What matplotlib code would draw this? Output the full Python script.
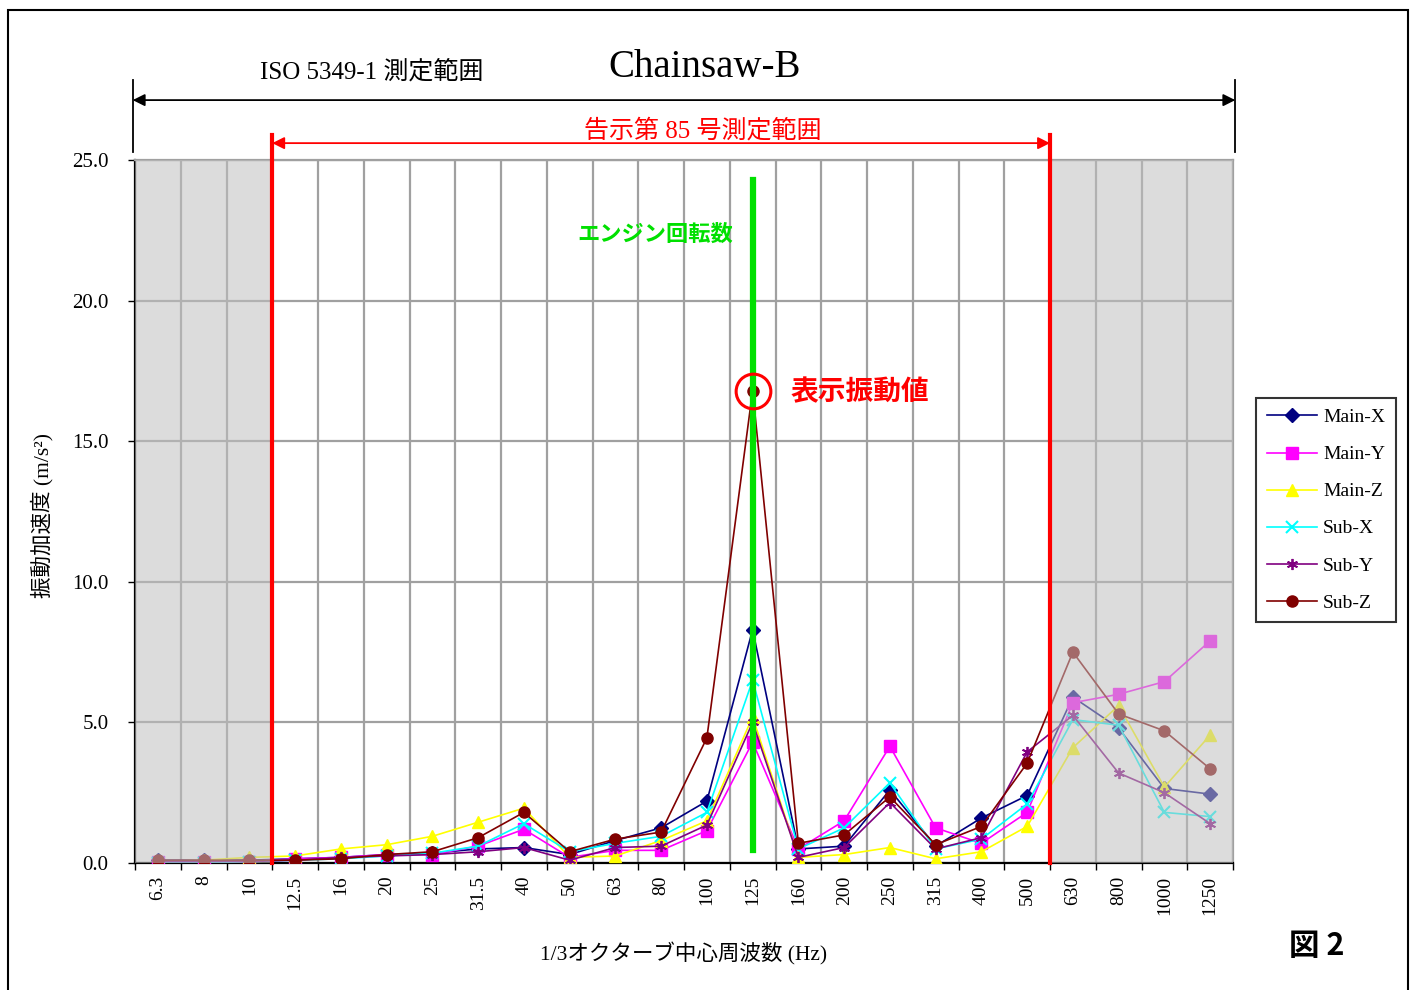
import matplotlib
matplotlib.use("Agg")
import matplotlib.pyplot as plt
from matplotlib.patches import Rectangle
import numpy as np

freqs = ['6.3', '8', '10', '12.5', '16', '20', '25', '31.5', '40', '50', '63', '80',
         '100', '125', '160', '200', '250', '315', '400', '500', '630', '800', '1000', '1250']
main_x = [0.1, 0.1, 0.1, 0.15, 0.2, 0.3, 0.35, 0.5, 0.55, 0.3, 0.8, 1.25, 2.2, 8.3, 0.5, 0.6, 2.6, 0.6, 1.6, 2.4, 5.9, 4.8, 2.65, 2.45]
main_y = [0.05, 0.05, 0.05, 0.15, 0.2, 0.3, 0.3, 0.6, 1.2, 0.2, 0.45, 0.45, 1.15, 4.3, 0.5, 1.5, 4.15, 1.25, 0.7, 1.8, 5.7, 6.0, 6.45, 7.9]
main_z = [0.05, 0.1, 0.2, 0.25, 0.5, 0.65, 0.95, 1.45, 1.95, 0.2, 0.25, 0.8, 1.5, 5.2, 0.2, 0.3, 0.55, 0.15, 0.4, 1.3, 4.1, 5.6, 2.7, 4.55]
sub_x = [0.0, 0.0, 0.05, 0.1, 0.15, 0.25, 0.35, 0.6, 1.4, 0.4, 0.7, 0.95, 1.8, 6.5, 0.5, 1.25, 2.85, 0.5, 0.85, 2.1, 5.1, 4.9, 1.8, 1.65]
sub_y = [0.05, 0.05, 0.05, 0.1, 0.2, 0.25, 0.3, 0.4, 0.55, 0.1, 0.55, 0.6, 1.35, 5.0, 0.2, 0.55, 2.15, 0.5, 0.9, 3.95, 5.25, 3.2, 2.5, 1.4]
sub_z = [0.1, 0.1, 0.1, 0.1, 0.15, 0.3, 0.4, 0.9, 1.8, 0.4, 0.85, 1.1, 4.45, 16.8, 0.7, 1.0, 2.35, 0.65, 1.3, 3.55, 7.5, 5.3, 4.7, 3.35]
series_names = ['Main-X', 'Main-Y', 'Main-Z', 'Sub-X', 'Sub-Y', 'Sub-Z']
y_ticks = [0.0, 5.0, 10.0, 15.0, 20.0, 25.0]
engine_freq = '125'

FAM = ['Liberation Serif', 'Noto Sans CJK JP', 'DejaVu Sans']
JFAM = ['Noto Sans CJK JP', 'DejaVu Sans']
plt.rcParams['font.family'] = FAM

fig = plt.figure(figsize=(14.18, 9.9), dpi=100)
ax = fig.add_axes([135/1418, 1-863/990, (1233-135)/1418, (863-160)/990])

x = np.arange(len(freqs))
styles = [
    dict(color='#000080', marker='D', ms=7),
    dict(color='#FF00FF', marker='s', ms=8),
    dict(color='#FFFF00', marker='^', ms=9),
    dict(color='#00FFFF', marker='x', ms=8, mew=1.5),
    dict(color='#800080', marker=(6, 2, 0), ms=8, mew=1.3),
    dict(color='#800000', marker='o', ms=8),
]
data = [main_x, main_y, main_z, sub_x, sub_y, sub_z]
handles = []
for name, vals, st in zip(series_names, data, styles):
    h, = ax.plot(x, vals, color=st['color'], marker=st['marker'], ms=st['ms'],
                 mew=st.get('mew', 1.0), lw=1.2, label=name, zorder=3)
    handles.append(h)

ax.set_xlim(-0.5, len(freqs) - 0.5)
ax.set_ylim(0, 25)

ax.set_xticks(x)
ax.set_xticklabels(freqs, rotation=90, fontsize=14)
ax.set_xticks(np.arange(-0.5, len(freqs), 1.0), minor=True)
ax.tick_params(axis='x', which='major', length=0, pad=9)
ax.tick_params(axis='x', which='minor', length=5, width=1, direction='out')
ax.set_yticks(y_ticks)
ax.set_yticklabels([f'{v:.1f}' for v in y_ticks], fontsize=15)
ax.tick_params(axis='y', length=5, width=1, pad=14)
ax.grid(True, which='minor', axis='x', color='#A0A0A0', lw=1.6, zorder=1)
ax.grid(True, which='major', axis='y', color='#A0A0A0', lw=1.6, zorder=1)
ax.set_axisbelow(True)
for s in ['top', 'right']:
    ax.spines[s].set_color('#A0A0A0')
    ax.spines[s].set_linewidth(1.6)
for s in ['left', 'bottom']:
    ax.spines[s].set_color('black')
    ax.spines[s].set_linewidth(1.6)

# gray shaded regions (overlay, fades marks underneath)
ax.axvspan(-0.5, 2.5, color='#C0C0C0', alpha=0.55, lw=0, zorder=4)
ax.axvspan(19.5, len(freqs) - 0.5, color='#C0C0C0', alpha=0.55, lw=0, zorder=4)

# red range lines
ax.plot([2.5, 2.5], [0, 25.9], color='red', lw=3, zorder=5, clip_on=False)
ax.plot([19.5, 19.5], [0, 25.9], color='red', lw=3, zorder=5, clip_on=False)
ax.annotate('', xy=(2.5, 25.6), xytext=(19.5, 25.6), xycoords='data',
            arrowprops=dict(arrowstyle='<|-|>', color='red', lw=1.3, mutation_scale=18,
                            shrinkA=0, shrinkB=0), annotation_clip=False)
ax.text(11.9, 26.05, '告示第 85 号測定範囲', color='red', fontsize=18, ha='center', va='center',
        family=FAM)

# black ISO range
ax.plot([-0.55, -0.55], [25.3, 27.85], color='black', lw=1.3, clip_on=False)
ax.plot([23.55, 23.55], [25.3, 27.85], color='black', lw=1.3, clip_on=False)
ax.annotate('', xy=(-0.55, 27.13), xytext=(23.55, 27.13), xycoords='data',
            arrowprops=dict(arrowstyle='<|-|>', color='black', lw=1.3, mutation_scale=18,
                            shrinkA=0, shrinkB=0), annotation_clip=False)
ax.text(4.68, 28.13, 'ISO 5349-1 測定範囲', fontsize=18, ha='center', va='center',
        family=FAM)
ax.text(11.96, 28.3, 'Chainsaw-B', fontsize=28, ha='center', va='center', family=FAM)

# green engine speed line
ei = freqs.index(engine_freq)
ax.plot([ei, ei], [0.45, 24.3], color='#00E000', lw=4.5, zorder=6)
ax.text(10.87, 22.35, 'エンジン回転数', color='#00E000', fontsize=16, fontweight='bold',
        ha='center', va='center', family=JFAM)

# red circle on displayed value
ax.plot([ei], [sub_z[ei]], marker='o', ms=25, mfc='none', mec='red', mew=2.2, zorder=7)
ax.text(15.35, 16.75, '表示振動値', color='red', fontsize=20, fontweight='bold',
        ha='center', va='center', family=JFAM)

# axis labels
ax.set_xlabel('1/3オクターブ中心周波数 (Hz)', fontsize=15.5, labelpad=20, family=FAM)
fig.text(42/1418, 1-515/990, '振動加速度 (m/s²)', rotation=90, fontsize=15.5,
         ha='center', va='center', family=FAM)

# legend
leg = fig.legend(handles=handles, loc='upper left', bbox_to_anchor=(1256/1418, 1-398/990),
                 borderaxespad=0, frameon=True, fancybox=False, edgecolor='black',
                 handlelength=2.6, labelspacing=1.0, borderpad=0.55, handletextpad=0.3,
                 prop={'family': FAM, 'size': 14})
leg.get_frame().set_linewidth(1.5)

fig.text(1317/1418, 1-946/990, '図 2', fontsize=22, fontweight='bold', ha='center', va='center',
         family=JFAM)

# outer border
fig.patches.append(Rectangle((8/1418, -0.05), (1408-8)/1418, 1.05 - 10/990, transform=fig.transFigure,
                             fill=False, edgecolor='black', lw=1.5))

fig.savefig('out.png', dpi=100)
